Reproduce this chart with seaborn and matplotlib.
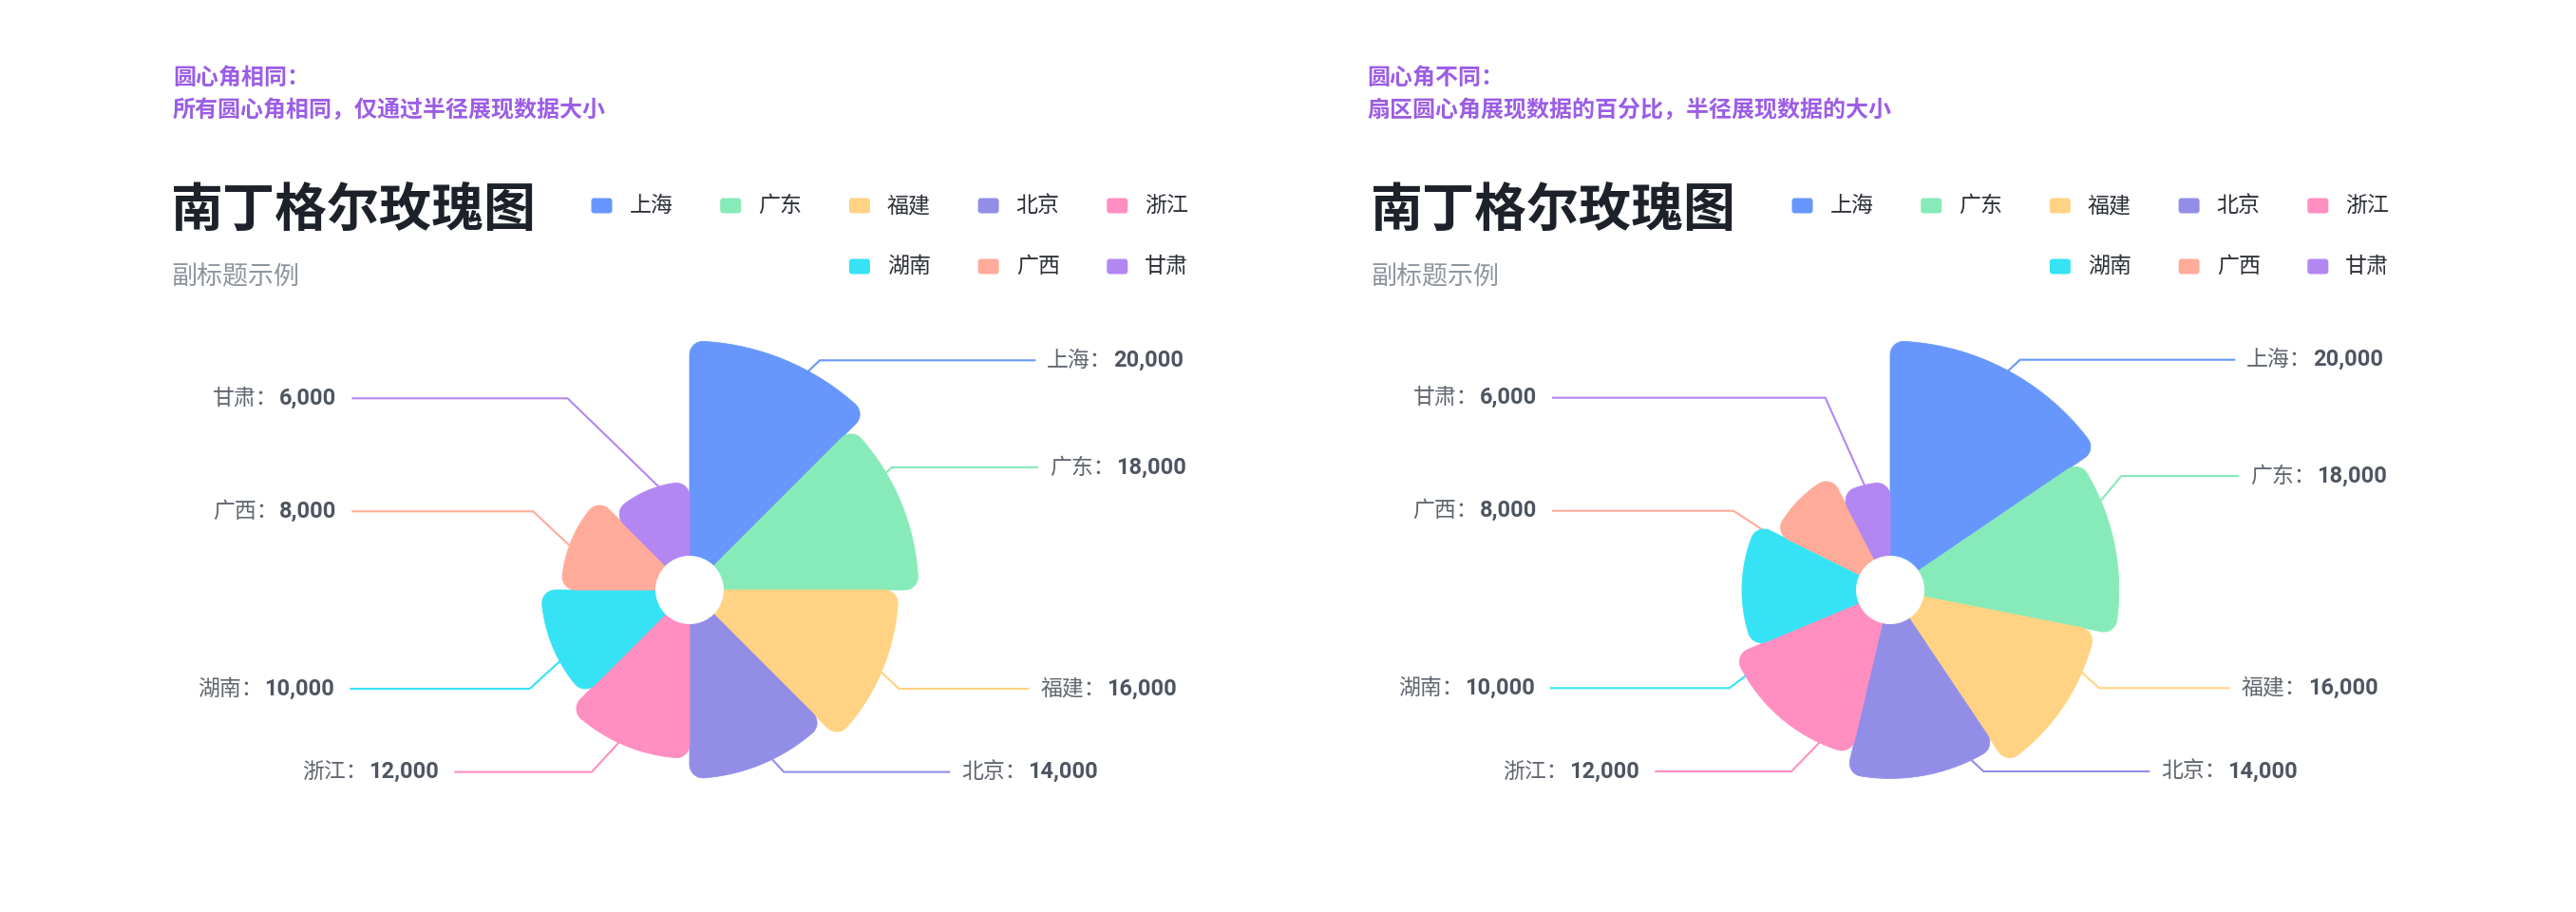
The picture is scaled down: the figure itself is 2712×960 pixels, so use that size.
import numpy as np
import matplotlib
matplotlib.use("Agg")
import matplotlib.pyplot as plt
from matplotlib.patches import Polygon, Circle, FancyBboxPatch
import seaborn as sns

# data
provinces = ["上海", "广东", "福建", "北京", "浙江", "湖南", "广西", "甘肃"]
values = [20000, 18000, 16000, 14000, 12000, 10000, 8000, 6000]
# right chart: share of the circle per sector (%)
right_share = [15.5, 12.6, 12.5, 13.1, 15.0, 13.6, 10.1, 7.6]
colors = ["#6797fc", "#87ebb9", "#ffd383", "#928ee8",
          "#ff8ec1", "#35e3f4", "#ffab9a", "#b387f2"]

title = "南丁格尔玫瑰图"
subtitle = "副标题示例"
notes_left = ["圆心角相同：", "所有圆心角相同，仅通过半径展现数据大小"]
notes_right = ["圆心角不同：", "扇区圆心角展现数据的百分比，半径展现数据的大小"]

sns.set_theme(style="white")
plt.rcParams["font.family"] = ["Noto Sans CJK SC", "DejaVu Sans"]
palette = sns.color_palette(colors)

W, H = 2712, 960
fig = plt.figure(figsize=(W / 100, H / 100), dpi=100)
ax = fig.add_axes([0, 0, 1, 1])
ax.set_xlim(0, W)
ax.set_ylim(H, 0)
ax.axis("off")


def pt(px):
    # pixel size -> points at dpi 100
    return px * 0.72


R_MAX, R_BASE, HOLE, CORNER = 262, 50, 36, 14


def radius(v):
    return R_BASE + v / max(values) * (R_MAX - R_BASE)


def polar(cx, cy, r, a):
    a = np.radians(a)
    return np.array([cx + r * np.sin(a), cy - r * np.cos(a)])


def fillet(c, p, q, n=14):
    t0 = np.arctan2(p[1] - c[1], p[0] - c[0])
    t1 = np.arctan2(q[1] - c[1], q[0] - c[0])
    dt = (t1 - t0 + np.pi) % (2 * np.pi) - np.pi
    rr = np.hypot(p[0] - c[0], p[1] - c[1])
    ts = t0 + dt * np.linspace(0, 1, n)
    return [np.array([c[0] + rr * np.cos(t), c[1] + rr * np.sin(t)]) for t in ts]


def sector(cx, cy, a0, a1, r, color):
    c = CORNER
    d = r - c
    dl = np.degrees(np.arcsin(c / d))
    pts = [polar(cx, cy, 10, a0)]
    pts += fillet(polar(cx, cy, d, a0 + dl),
                  polar(cx, cy, d * np.cos(np.radians(dl)), a0),
                  polar(cx, cy, r, a0 + dl))
    pts += [polar(cx, cy, r, a) for a in np.linspace(a0 + dl, a1 - dl, 60)]
    pts += fillet(polar(cx, cy, d, a1 - dl),
                  polar(cx, cy, r, a1 - dl),
                  polar(cx, cy, d * np.cos(np.radians(dl)), a1))
    pts += [polar(cx, cy, 10, a) for a in np.linspace(a1, a0, 10)]
    ax.add_patch(Polygon(np.array(pts), closed=True, facecolor=color,
                         edgecolor=color, lw=0.6, zorder=2))


def rose(cx, cy, spans, lead):
    start = 0
    for i, (name, v) in enumerate(zip(provinces, values)):
        r = radius(v)
        sector(cx, cy, start, start + spans[i], r, palette[i])
        start += spans[i]

        # leader line and label
        s = polar(cx, cy, r, lead["angle"][i])
        ly = cy + lead["dy"][i]
        ex = cx + lead["elbow"][i]
        endx = cx + lead["end"][i]
        ax.plot([s[0], ex, endx], [s[1], ly, ly], color=palette[i],
                lw=1.5, zorder=1, solid_capstyle="butt")
        val = f"{v:,}"
        if lead["end"][i] > 0:
            t = ax.text(endx + 12, ly, name + "：", ha="left", va="center",
                        fontsize=16.5, color="#60666f")
            ax.annotate(val, xy=(1, 0.5), xycoords=t, xytext=(1, 0),
                        textcoords="offset points", ha="left", va="center",
                        fontsize=17, fontweight="bold", color="#4e5561",
                        family=["Roboto", "DejaVu Sans"])
        else:
            t = ax.text(endx - 16, ly, val, ha="right", va="center",
                        fontsize=17, fontweight="bold", color="#4e5561",
                        family=["Roboto", "DejaVu Sans"])
            ax.annotate(name + "：", xy=(0, 0.5), xycoords=t, xytext=(-1, 0),
                        textcoords="offset points", ha="right", va="center",
                        fontsize=16.5, color="#60666f")
    ax.add_patch(Circle((cx, cy), HOLE, facecolor="white", edgecolor="none",
                        zorder=3))


def header(x, notes, note_x, leg_x):
    for k, line in enumerate(notes):
        ax.text(note_x, 82 + 33.5 * k, line, ha="left", va="center",
                fontsize=pt(24), color="#9b5de5", fontweight="bold")
    ax.text(x, 222, title, ha="left", va="center", fontsize=pt(55),
            fontweight="bold", color="#1d2129")
    ax.text(x, 292, subtitle, ha="left", va="center", fontsize=pt(27),
            color="#8f959e")
    per_row = 5
    n = len(provinces)
    for i, name in enumerate(provinces):
        row = i // per_row
        in_row = min(per_row, n - row * per_row)
        col = i % per_row + (per_row - in_row)
        sx = leg_x + col * 135.7
        sy = 216.5 + row * 64
        ax.add_patch(FancyBboxPatch((sx, sy - 8), 22, 16,
                                    boxstyle="round,pad=0,rounding_size=3",
                                    facecolor=palette[i], edgecolor="none"))
        ax.text(sx + 40, sy, name, ha="left", va="center", fontsize=pt(23),
                color="#2b2f36")


left_lead = {
    "angle": [28.5, 59.2, 113.2, 154, 204.9, 241.2, 290.3, 343.3],
    "dy": [-241.7, -129, 104, 191.6, 191.6, 104, -82.7, -201.7],
    "elbow": [137, 212.6, 220.3, 99.3, -103, -168.4, -164.7, -128.4],
    "end": [364.3, 367, 357.3, 274.3, -247.7, -357.7, -355.7, -355.7],
}
right_lead = {
    "angle": [28.3, 67, 113.3, 154.5, 204.9, 240.1, 294.4, 346.2],
    "dy": [-242.3, -120, 103.3, 191, 191, 103.3, -83.3, -202.3],
    "elbow": [136.7, 243.3, 220, 98.3, -104, -169.3, -165, -68.3],
    "end": [363.3, 367.3, 357.7, 273.3, -247.7, -358, -356, -356],
}

# left: equal angles, radius shows value
header(180, notes_left, 182, 622.5)
rose(726, 621, [360 / len(values)] * len(values), left_lead)

# right: angle shows share, radius shows value
header(1443, notes_right, 1439, 1886.5)
rose(1990, 621, [s * 3.6 for s in right_share], right_lead)

fig.savefig("out.png", dpi=100, facecolor="white")
